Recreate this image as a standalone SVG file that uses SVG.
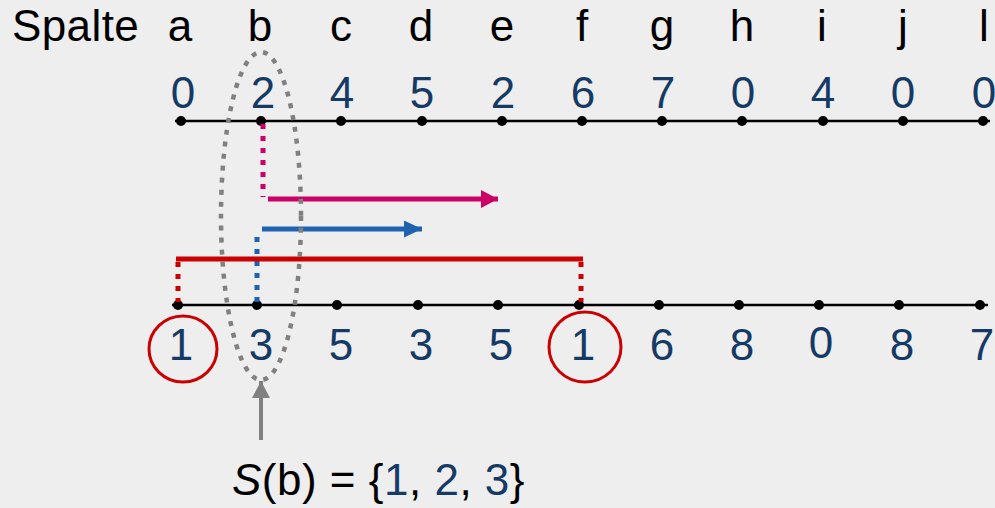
<svg xmlns="http://www.w3.org/2000/svg" width="995" height="508" viewBox="0 0 995 508">
<style>
text{font-family:"Liberation Sans",Arial,sans-serif;font-size:44px}
.h{fill:#000;text-anchor:middle}
.n{fill:#153a66;text-anchor:middle}
.axis{stroke:#000;stroke-width:2.5}
.dot{fill:#000}
.dash{stroke-dasharray:5 7;fill:none}
</style>
<defs>
<marker id="am" markerUnits="userSpaceOnUse" markerWidth="18" markerHeight="18" refX="17" refY="9" orient="auto"><path d="M0,0 L17,9 L0,18 Z" fill="#cc0066"/></marker>
<marker id="ab" markerUnits="userSpaceOnUse" markerWidth="18" markerHeight="18" refX="18" refY="8.5" orient="auto"><path d="M0,0 L18,8.5 L0,17 Z" fill="#1f62b0"/></marker>
<marker id="ag" markerUnits="userSpaceOnUse" markerWidth="18" markerHeight="18" refX="17" refY="9" orient="auto"><path d="M0,0 L17,9 L0,18 Z" fill="#808080"/></marker>
</defs>
<rect width="995" height="508" fill="#eeeeee"/>

<g id="header">
<text x="12" y="41" style="text-anchor:start" letter-spacing="0.4">Spalte</text>
<text class="h" x="180" y="41">a</text>
<text class="h" x="260" y="41">b</text>
<text class="h" x="341" y="41">c</text>
<text class="h" x="421" y="41">d</text>
<text class="h" x="502" y="41">e</text>
<text class="h" x="582" y="41">f</text>
<text class="h" x="662" y="41">g</text>
<text class="h" x="742" y="41">h</text>
<text class="h" x="822" y="41">i</text>
<text class="h" x="903" y="41">j</text>
<text class="h" x="984" y="41">l</text>
</g>

<g id="top-row">
<line class="axis" x1="175" y1="121" x2="990" y2="121"/>
<g class="dot">
<circle cx="181" cy="121" r="5"/><circle cx="261" cy="121" r="5"/><circle cx="341" cy="121" r="5"/><circle cx="422" cy="121" r="5"/><circle cx="502" cy="121" r="5"/><circle cx="582" cy="121" r="5"/><circle cx="662" cy="121" r="5"/><circle cx="742" cy="121" r="5"/><circle cx="823" cy="121" r="5"/><circle cx="903" cy="121" r="5"/><circle cx="983" cy="121" r="5"/>
</g>
<text class="n" x="183" y="108">0</text>
<text class="n" x="263" y="108">2</text>
<text class="n" x="342" y="108">4</text>
<text class="n" x="422" y="108">5</text>
<text class="n" x="503" y="108">2</text>
<text class="n" x="583" y="108">6</text>
<text class="n" x="663" y="108">7</text>
<text class="n" x="743" y="108">0</text>
<text class="n" x="823" y="108">4</text>
<text class="n" x="903" y="108">0</text>
<text class="n" x="984" y="108">0</text>
</g>

<g id="bottom-row">
<line class="axis" x1="172" y1="305" x2="988" y2="305"/>
<g class="dot">
<circle cx="178" cy="305" r="5"/><circle cx="257" cy="305" r="5"/><circle cx="337" cy="305" r="5"/><circle cx="418" cy="305" r="5"/><circle cx="498" cy="305" r="5"/><circle cx="579" cy="305" r="5"/><circle cx="659" cy="305" r="5"/><circle cx="739" cy="305" r="5"/><circle cx="819" cy="305" r="5"/><circle cx="899" cy="305" r="5"/><circle cx="980" cy="305" r="5"/>
</g>
<text class="n" x="181" y="360">1</text>
<text class="n" x="261" y="360">3</text>
<text class="n" x="341" y="360">5</text>
<text class="n" x="421" y="360">3</text>
<text class="n" x="501" y="360">5</text>
<text class="n" x="583" y="360">1</text>
<text class="n" x="662" y="360">6</text>
<text class="n" x="742" y="360">8</text>
<text class="n" x="821" y="358">0</text>
<text class="n" x="902" y="360">8</text>
<text class="n" x="982" y="360">7</text>
</g>

<g id="circles" fill="none" stroke="#cc0000" stroke-width="3">
<ellipse cx="183" cy="349" rx="34" ry="33"/>
<ellipse cx="585" cy="347" rx="36" ry="35"/>
</g>

<g id="connectors">
<path class="dash" d="M263,124 V197" stroke="#cc0066" stroke-width="5"/>
<line x1="268" y1="199" x2="498" y2="199" stroke="#cc0066" stroke-width="5" marker-end="url(#am)"/>
<path class="dash" d="M257,302 V231" stroke="#1f62b0" stroke-width="5"/>
<line x1="262" y1="229" x2="422" y2="229" stroke="#1f62b0" stroke-width="5" marker-end="url(#ab)"/>
<line x1="176" y1="259" x2="583" y2="259" stroke="#cc0000" stroke-width="5"/>
<path class="dash" d="M178,262 V302" stroke="#cc0000" stroke-width="5"/>
<path class="dash" d="M581,262 V302" stroke="#cc0000" stroke-width="5"/>
<line x1="261" y1="440" x2="261" y2="381" stroke="#808080" stroke-width="4" marker-end="url(#ag)"/>
</g>

<g id="ellipse-sb">
<ellipse class="dash" cx="261" cy="216" rx="40" ry="164" stroke="#808080" stroke-width="4.5"/>
</g>

<g id="formula">
<text x="232" y="495" font-size="45" letter-spacing="0.5"><tspan font-style="italic">S</tspan>(b) = {<tspan fill="#153a66">1</tspan>, <tspan fill="#153a66">2</tspan>, <tspan fill="#153a66">3</tspan>}</text>
</g>
</svg>
